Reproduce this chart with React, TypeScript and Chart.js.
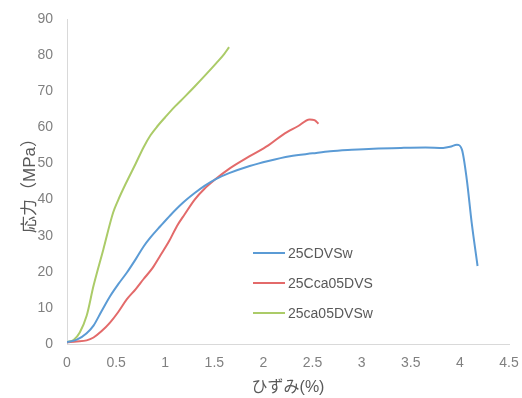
import React, { useEffect, useRef } from 'react';
import { Chart, registerables } from 'chart.js';

Chart.register(...registerables);

const seriesNames = ['25CDVSw', '25Cca05DVS', '25ca05DVSw'];

const blueX = [0, 0.1, 0.2, 0.27, 0.35, 0.44, 0.52, 0.61, 0.7, 0.78, 0.85, 0.95, 1.05, 1.18, 1.3, 1.4, 1.51, 1.65, 1.86, 2.05, 2.27, 2.5, 2.68, 2.9, 3.12, 3.4, 3.65, 3.83, 3.9, 3.97, 4.02, 4.07, 4.12, 4.18];
const blueY = [0.5, 1.2, 3, 5.1, 9, 13.3, 16.5, 19.8, 23.5, 27, 29.5, 32.6, 35.6, 39.1, 41.8, 43.8, 45.6, 47.3, 49.3, 50.7, 52, 52.8, 53.4, 53.8, 54.1, 54.3, 54.4, 54.3, 54.6, 55.2, 53.9, 45.6, 33.6, 21.6];

const redX = [0, 0.1, 0.2, 0.27, 0.35, 0.44, 0.52, 0.61, 0.7, 0.78, 0.87, 0.95, 1.04, 1.12, 1.2, 1.3, 1.4, 1.51, 1.65, 1.86, 2.05, 2.2, 2.35, 2.47, 2.52, 2.56];
const redY = [0.5, 0.7, 1.0, 1.8, 3.5, 6, 8.8, 12.4, 15.2, 18, 21, 24.5, 28.5, 32.7, 36, 40, 43, 45.6, 48.5, 52, 55, 58, 60.3, 62.2, 62, 61];

const greenX = [0, 0.07, 0.13, 0.2, 0.27, 0.37, 0.47, 0.52, 0.6, 0.7, 0.78, 0.85, 0.92, 1.0, 1.1, 1.2, 1.3, 1.42, 1.52, 1.6, 1.65];
const greenY = [0.5, 1.2, 3.2, 7.8, 16.1, 26.2, 36.4, 39.8, 44.5, 50, 54.5, 57.8, 60.3, 62.8, 65.8, 68.5, 71.3, 74.8, 77.8, 80.3, 82.2];

const xTitle = 'ひずみ(%)';
const yTitle = '応力（MPa）';

const colors = ['#5b9bd5', '#e36a6a', '#abcb68'];

const toPoints = (xs: number[], ys: number[]) => xs.map((x, i) => ({ x, y: ys[i] }));

const FONT = "'Liberation Sans', Arial, 'Noto Sans CJK JP', sans-serif";

const insideLegend = {
  id: 'insideLegend',
  afterDraw(chart: any) {
    const { ctx } = chart;
    const x0 = 253;
    const lineLen = 32;
    const y0 = 253;
    const gap = 30;
    ctx.save();
    ctx.font = `14px ${FONT}`;
    ctx.textBaseline = 'middle';
    ctx.textAlign = 'left';
    chart.data.datasets.forEach((ds: any, i: number) => {
      const y = y0 + i * gap;
      ctx.strokeStyle = ds.borderColor;
      ctx.lineWidth = 2;
      ctx.beginPath();
      ctx.moveTo(x0, y);
      ctx.lineTo(x0 + lineLen, y);
      ctx.stroke();
      ctx.fillStyle = '#595959';
      ctx.fillText(ds.label, x0 + lineLen + 3, y + 1);
    });
    ctx.restore();
  },
};

export default function App() {
  const ref = useRef<HTMLCanvasElement | null>(null);

  useEffect(() => {
    document.body.style.margin = '0';
    if (!ref.current) return;
    const chart = new Chart(ref.current, {
      type: 'line',
      data: {
        datasets: [
          { label: seriesNames[0], data: toPoints(blueX, blueY), borderColor: colors[0], backgroundColor: colors[0] },
          { label: seriesNames[1], data: toPoints(redX, redY), borderColor: colors[1], backgroundColor: colors[1] },
          { label: seriesNames[2], data: toPoints(greenX, greenY), borderColor: colors[2], backgroundColor: colors[2] },
        ],
      },
      options: {
        responsive: false,
        animation: false,
        elements: {
          point: { radius: 0, hoverRadius: 0 },
          line: { borderWidth: 2, cubicInterpolationMode: 'monotone', fill: false },
        },
        layout: { autoPadding: false, padding: { top: 19, right: 13, left: 0, bottom: 0 } },
        plugins: {
          legend: { display: false },
          tooltip: { enabled: false },
        },
        scales: {
          x: {
            type: 'linear',
            min: 0,
            max: 4.5,
            grid: { display: false, drawTicks: false },
            border: { display: true, color: '#d9d9d9', width: 1 },
            ticks: {
              stepSize: 0.5,
              padding: 11,
              color: '#808080',
              font: { size: 14, family: FONT },
              maxRotation: 0,
              autoSkip: false,
              callback: (v: any) => String(Number(v)),
            },
            title: {
              display: true,
              text: xTitle,
              color: '#595959',
              font: { size: 16, family: FONT },
              padding: { top: 0, bottom: 1 },
            },
            afterFit: (s: any) => {
              s.height = 54;
              s.paddingLeft = 0;
              s.paddingRight = 0;
            },
          },
          y: {
            type: 'linear',
            min: 0,
            max: 90,
            grid: { display: false, drawTicks: false },
            border: { display: true, color: '#d9d9d9', width: 1 },
            ticks: {
              stepSize: 10,
              padding: 14,
              color: '#808080',
              font: { size: 14, family: FONT },
            },
            title: {
              display: true,
              text: yTitle,
              color: '#595959',
              font: { size: 17, family: FONT },
              padding: { top: 20, bottom: 0 },
            },
            afterFit: (s: any) => {
              s.width = 67;
              s.paddingTop = 0;
              s.paddingBottom = 0;
            },
          },
        },
      },
      plugins: [insideLegend],
    });
    return () => chart.destroy();
  }, []);

  return (
    <div style={{ width: 522, height: 398, background: '#fff' }}>
      <canvas ref={ref} width={522} height={398} />
    </div>
  );
}
